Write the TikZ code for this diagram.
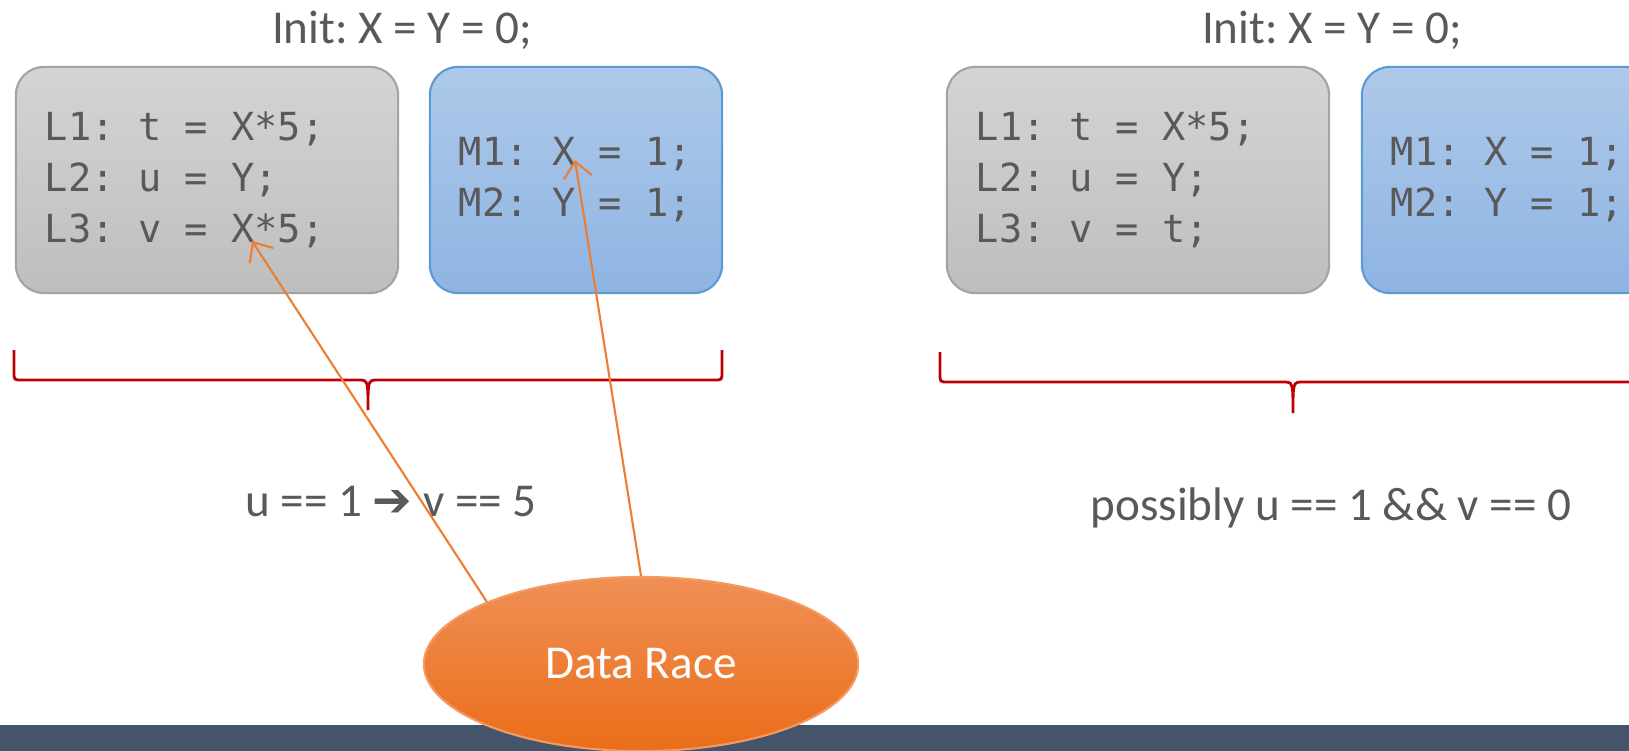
\documentclass[tikz,border=0pt]{standalone}
\usepackage{fontspec}
\setmainfont{Carlito}
\newfontfamily\codefont{DejaVu Sans Mono}
\newfontfamily\symfont{DejaVu Sans}
\usetikzlibrary{shapes.geometric, arrows.meta}
\frenchspacing

% full-width spaces in the code boxes
\newcommand\codespacing{\spaceskip=0pt\xspaceskip=0pt\relax}

\definecolor{textgray}{HTML}{595959}
\definecolor{grayTop}{HTML}{D4D4D4}
\definecolor{grayBot}{HTML}{BEBEBE}
\definecolor{grayEdge}{HTML}{A3A3A3}
\definecolor{blueTop}{HTML}{AEC9E9}
\definecolor{blueBot}{HTML}{8EB4E3}
\definecolor{blueEdge}{HTML}{5B9BD5}
\definecolor{braceRed}{HTML}{C00000}
\definecolor{raceLine}{HTML}{ED7D31}
\definecolor{raceTop}{HTML}{F08F55}
\definecolor{raceBot}{HTML}{EA6E1A}
\definecolor{raceEdge}{HTML}{F29A62}
\definecolor{barBlue}{HTML}{44546A}

\begin{document}
\begin{tikzpicture}[x=0.01cm, y=-0.01cm,
    label text/.style={text=textgray, font=\fontsize{13.4}{16}\selectfont},
    codebox/.style={rounded corners=0.28cm, minimum height=2.26cm, inner xsep=0.29cm,
        align=left, text=textgray, line width=0.6pt,
        font=\codefont\fontsize{11}{14.5}\selectfont},
    graybox/.style={codebox, top color=grayTop, bottom color=grayBot, draw=grayEdge, text width=3.24cm},
    bluebox/.style={codebox, top color=blueTop, bottom color=blueBot, draw=blueEdge, text width=2.34cm},
    brace/.style={draw=braceRed, line width=0.8pt},
    race/.style={ellipse, minimum width=4.34cm, minimum height=1.74cm, inner sep=0pt,
        top color=raceTop, bottom color=raceBot, draw=raceEdge, line width=0.6pt,
        text=white, font=\fontsize{13.4}{16}\selectfont},
    racearrow/.style={draw=raceLine, line width=0.6pt, -{Straight Barb[length=4.5pt, width=8pt]}}]
    \useasboundingbox (0, 0) rectangle (1629, 751);
    \clip (0, 0) rectangle (1629, 751);

    % Bottom bar
    \fill[barBlue] (0, 725) rectangle (1629, 751);

    % Left: original program
    \node[label text, anchor=base] (initL) at (402, 43) {Init: X = Y = 0;};
    \node[graybox] (threadL) at (207, 180) {\codespacing L1: t = X*5;\\L2: u = Y;\\L3: v = X*5;};
    \node[bluebox] (threadM) at (576, 180) {\codespacing M1: X = 1;\\M2: Y = 1;};
    \draw[brace] (14, 350) -- (14, 372) .. controls (14, 380) .. (22, 380) -- (358, 380)
        .. controls (368, 380) .. (368, 410) .. controls (368, 380) .. (378, 380) -- (714, 380)
        .. controls (722, 380) .. (722, 372) -- (722, 350);
    \node[label text, anchor=base] (resultL) at (391, 516) {u == 1 {\symfont ➔} v == 5};

    % Right: transformed program
    \node[label text, anchor=base] (initR) at (1332, 43) {Init: X = Y = 0;};
    \node[graybox] (threadLR) at (1138, 180) {\codespacing L1: t = X*5;\\L2: u = Y;\\L3: v = t;};
    \node[bluebox] (threadMR) at (1508, 180) {\codespacing M1: X = 1;\\M2: Y = 1;};
    \draw[brace] (940, 352) -- (940, 374) .. controls (940, 382) .. (948, 382) -- (1283, 382)
        .. controls (1293, 382) .. (1293, 413) .. controls (1293, 382) .. (1303, 382) -- (1638, 382)
        .. controls (1646, 382) .. (1646, 374) -- (1646, 352);
    \node[label text, anchor=base] (resultR) at (1331, 520) {possibly u == 1 \&\& v == 0};

    % Data race
    \node[race] (race) at (641, 664) {Data Race};
    \coordinate (readX) at (252, 241);
    \coordinate (writeX) at (575, 160);
    \draw[racearrow] (race.158) -- (readX);
    \draw[racearrow] (race.north) -- (writeX);
\end{tikzpicture}
\end{document}
